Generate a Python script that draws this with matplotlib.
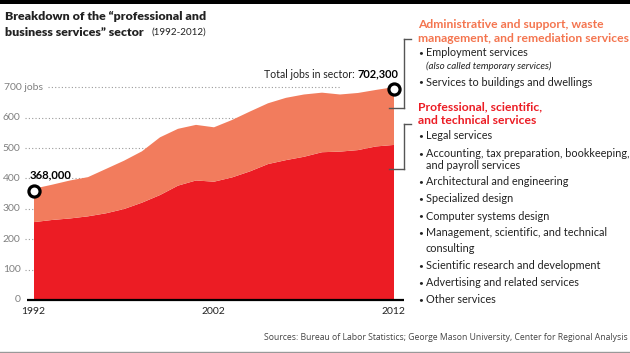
import matplotlib
matplotlib.use("Agg")
import matplotlib.pyplot as plt
from matplotlib.lines import Line2D
import matplotlib.transforms as mtransforms

years = list(range(1992, 2013))
total = [368, 381, 395, 406, 433, 460, 491, 537, 565, 578, 570, 594, 622, 649, 667, 678, 684, 678, 683, 693, 702.3]
professional = [258, 265, 270, 277, 287, 301, 322, 347, 378, 395, 391, 405, 425, 449, 462, 473, 488, 490, 495, 507, 512]
ytick_values = [0, 100, 200, 300, 400, 500, 600, 700]
ytick_labels = ["0", "100", "200", "300", "400", "500", "600", "700 jobs"]
xtick_values = [1992, 2002, 2012]

admin_heading = ["Administrative and support, waste", "management, and remediation services"]
admin_items = ["Employment services", "Services to buildings and dwellings"]
prof_heading = ["Professional, scientific,", "and technical services"]
prof_items = ["Legal services",
              "Accounting, tax preparation, bookkeeping,\nand payroll services",
              "Architectural and engineering",
              "Specialized design",
              "Computer systems design",
              "Management, scientific, and technical\nconsulting",
              "Scientific research and development",
              "Advertising and related services",
              "Other services"]

RED = "#EC1C24"
SALMON = "#F27C5D"
ORANGE = "#F4754F"
GRAY = "#808080"
DARK = "#222222"
FONT = "Lato"

W, H = 630, 353
fig = plt.figure(figsize=(W / 100, H / 100), dpi=100)
renderer = fig.canvas.get_renderer()

def fx(px):
    return px / W

def fy(py):
    return 1 - py / H

def width_px(t):
    return t.get_window_extent(renderer=renderer).width

def fit(t, target):
    t.set_fontsize(t.get_fontsize() * target / width_px(t))
    return t

# top black bar
fig.add_artist(plt.Rectangle((0, fy(4)), 1, 4 / H, transform=fig.transFigure, color="black", lw=0))
# bottom gray rule
fig.add_artist(Line2D([0, 1], [fy(351.5), fy(351.5)], transform=fig.transFigure, color="#999999", lw=1))

# axes
ax_left, ax_right = 33.5, 404
ax_bottom = 300
ymax = 760
ppu = (300 - 87.3) / 700
ax_h = ymax * ppu
ax = fig.add_axes([fx(ax_left), fy(ax_bottom), (ax_right - ax_left) / W, ax_h / H])
ax.set_xlim(1992, 1992 + (ax_right - ax_left) / 18.0)
ax.set_ylim(0, ymax)
for s in ["top", "right", "left", "bottom"]:
    ax.spines[s].set_visible(False)
ax.set_xticks([])
ax.set_yticks([])
ax.patch.set_alpha(0)

ax.fill_between(years, 0, professional, color=RED, lw=0, zorder=2)
ax.fill_between(years, professional, total, color=SALMON, lw=0, zorder=2)

blend = mtransforms.blended_transform_factory(ax.transAxes, ax.transData)
wpx = ax_right - ax_left
# baseline
ax.plot([(27 - ax_left) / wpx, 1], [0, 0], transform=blend, color="black", lw=1.6,
        clip_on=False, zorder=5, solid_capstyle="butt")

for v, lab in zip(ytick_values, ytick_labels):
    if lab.endswith("jobs"):
        ax.text((4 - ax_left) / wpx, v, lab, transform=blend, ha="left", va="center",
                fontsize=7.5, color=GRAY, family=FONT, clip_on=False)
    else:
        ax.text((20.5 - ax_left) / wpx, v, lab, transform=blend, ha="right", va="center",
                fontsize=7.5, color=GRAY, family=FONT, clip_on=False)
    if v == 0:
        continue
    if v == 700:
        x0, x1 = (48 - ax_left) / wpx, (340 - ax_left) / wpx
    else:
        x0, x1 = (25 - ax_left) / wpx, 0.95
    ax.plot([x0, x1], [v, v], transform=blend, color="#9a9a9a", lw=0.8,
            dashes=(1, 2), clip_on=False, zorder=1)

for xv in xtick_values:
    ax.text(xv, -12 / ppu, str(xv), ha="center", va="center", fontsize=7.5,
            color=DARK, family=FONT, clip_on=False)

# endpoint markers
ax.plot([years[0], years[-1]], [total[0] - 10, total[-1] - 8], "o", ms=8, mfc="white",
        mec="black", mew=2.3, zorder=6, clip_on=False)

# annotations
a1 = fig.text(fx(30), fy(175), "368,000", ha="left", va="center", fontsize=9,
              fontweight="bold", color="black", family=FONT)
fit(a1, 42)
a2 = fig.text(fx(264), fy(74), "Total jobs in sector:", ha="left", va="center", fontsize=8.5,
              color=DARK, family=FONT)
fit(a2, 91)
a3 = fig.text(fx(398), fy(74), "702,300", ha="right", va="center", fontsize=9,
              fontweight="bold", color="black", family=FONT)
fit(a3, 41)

# title
t1 = fig.text(fx(5), fy(16), "Breakdown of the \u201cprofessional and", ha="left", va="center",
              fontsize=10, fontweight="heavy", color=DARK, family=FONT)
fit(t1, 202)
t2 = fig.text(fx(5), fy(32), "business services\u201d sector", ha="left", va="center",
              fontsize=t1.get_fontsize(), fontweight="heavy", color=DARK, family=FONT)
t3 = fig.text(fx(151), fy(32), "(1992-2012)", ha="left", va="center",
              fontsize=9, color=DARK, family=FONT)
fit(t3, 55)

# right side text
hx, bx, tx = 418, 418.5, 426
h1 = fig.text(fx(hx), fy(24), admin_heading[0], ha="left", va="center", fontsize=8.8,
              fontweight="bold", color=ORANGE, family=FONT)
h2 = fig.text(fx(hx), fy(38), admin_heading[1], ha="left", va="center", fontsize=8.8,
              fontweight="bold", color=ORANGE, family=FONT)
fit(h2, 210)
hfs = h2.get_fontsize()
h1.set_fontsize(hfs)

# body font size from the widest line
probe = fig.text(0, 0, "Accounting, tax preparation, bookkeeping,", fontsize=8.6, family=FONT)
bfs = 8.6 * 202 / width_px(probe)
probe.remove()

def line(y, text, bullet=True, style="normal", fs=None):
    if bullet:
        fig.text(fx(bx), fy(y), "\u2022", ha="left", va="center", fontsize=6, color=DARK, family=FONT)
    fig.text(fx(tx), fy(y), text, ha="left", va="center", fontsize=fs or bfs, color=DARK,
             family=FONT, style=style)

line(53, admin_items[0])
line(66, "(also called temporary services)", bullet=False, style="italic", fs=bfs * 0.9)
line(82, admin_items[1])

fig.text(fx(hx), fy(106.5), prof_heading[0], ha="left", va="center", fontsize=hfs,
         fontweight="bold", color=RED, family=FONT)
fig.text(fx(hx), fy(120.5), prof_heading[1], ha="left", va="center", fontsize=hfs,
         fontweight="bold", color=RED, family=FONT)

item_y = [136, 153.3, 181.7, 199, 216, 232.7, 265.7, 282.7, 299.3]
second_gap = [0, 12, 0, 0, 0, 15.6, 0, 0, 0]
for y, gap, item in zip(item_y, second_gap, prof_items):
    lines = item.split("\n")
    line(y, lines[0])
    if len(lines) > 1:
        line(y + gap, lines[1], bullet=False)

# brackets
BR = "#555555"
def seg(x0, y0, x1, y1):
    fig.add_artist(Line2D([fx(x0), fx(x1)], [fy(y0), fy(y1)], transform=fig.transFigure,
                          color=BR, lw=1))
seg(389, 107.7, 404, 107.7)
seg(404, 107.7, 404, 39)
seg(404, 39, 411, 39)
seg(389, 169, 404, 169)
seg(404, 169, 404, 124)
seg(404, 124, 411, 124)

# source
src = fig.text(fx(628), fy(338), "Sources: Bureau of Labor Statistics; George Mason University, Center for Regional Analysis",
               ha="right", va="center", fontsize=7.3, color="#444444", family="Open Sans")
fit(src, 365)

fig.savefig("out.png", dpi=100)
